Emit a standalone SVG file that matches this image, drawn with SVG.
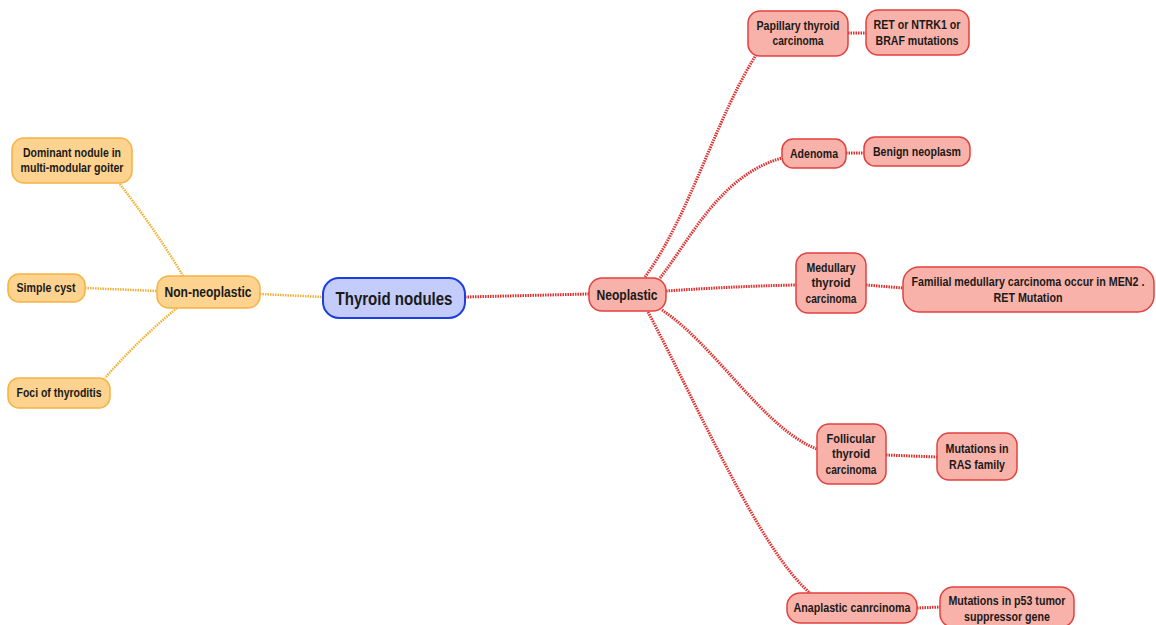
<svg xmlns="http://www.w3.org/2000/svg" width="1156" height="625" viewBox="0 0 1156 625">
<style>
.t{font-family:"Liberation Sans",Arial,sans-serif;font-weight:bold;fill:#1a1a1a;text-anchor:middle}
.o rect{fill:#fdd38f;stroke:#f5b342;stroke-width:1.5}
.r rect{fill:#f8b2a9;stroke:#e2413f;stroke-width:1.5}
.b rect{fill:#c3ccfa;stroke:#1d3fe0;stroke-width:2}
.co{fill:none;stroke:#f2b136;stroke-width:2.5;stroke-dasharray:1.5 1}
.cr{fill:none;stroke:#e0302e;stroke-width:3;stroke-dasharray:1.5 1}
</style>
<rect width="1156" height="625" fill="#ffffff"/>
<g id="connectors">
<path class="co" d="M260,294 L323,297"/>
<path class="co" d="M85,288 L157,291"/>
<path class="co" d="M183,276 C165,245 140,210 119,183"/>
<path class="co" d="M177,308 C150,330 125,355 105,378"/>
<path class="cr" d="M465,297 L589,294"/>
<path class="cr" d="M645,277 C690,215 715,120 756,55"/>
<path class="cr" d="M660,278 C690,240 720,175 782,158"/>
<path class="cr" d="M666,291 C710,288 750,286 796,285"/>
<path class="cr" d="M662,310 C715,345 765,430 817,449"/>
<path class="cr" d="M648,312 C700,410 760,550 810,593"/>
<path class="cr" d="M848,33 L866,33"/>
<path class="cr" d="M846,153 L864,153"/>
<path class="cr" d="M866,285 L903,288"/>
<path class="cr" d="M886,455 L937,457"/>
<path class="cr" d="M917,608 L940,607"/>
</g>
<g id="thyroid-nodules" class="b"><rect x="323" y="278" width="142" height="40" rx="16"/><text class="t" x="394" y="304.5" font-size="18" textLength="117" lengthAdjust="spacingAndGlyphs">Thyroid nodules</text></g>
<g id="non-neoplastic" class="o"><rect x="157" y="276" width="103" height="32" rx="12"/><text class="t" x="208" y="297" font-size="15" textLength="87" lengthAdjust="spacingAndGlyphs">Non-neoplastic</text></g>
<g id="dominant" class="o"><rect x="12" y="138" width="120" height="45" rx="12"/><text class="t" font-size="12.5"><tspan x="72" y="157" textLength="98" lengthAdjust="spacingAndGlyphs">Dominant nodule in</tspan><tspan x="72" y="172" textLength="103" lengthAdjust="spacingAndGlyphs">multi-modular goiter</tspan></text></g>
<g id="simple-cyst" class="o"><rect x="8" y="274" width="77" height="28" rx="11"/><text class="t" x="46" y="292" font-size="12.5" textLength="59" lengthAdjust="spacingAndGlyphs">Simple cyst</text></g>
<g id="foci" class="o"><rect x="8" y="378" width="102" height="30" rx="11"/><text class="t" x="59" y="397" font-size="12.5" textLength="85" lengthAdjust="spacingAndGlyphs">Foci of thyroditis</text></g>
<g id="neoplastic" class="r"><rect x="589" y="278" width="77" height="33" rx="13"/><text class="t" x="627" y="299.5" font-size="14.5" textLength="61" lengthAdjust="spacingAndGlyphs">Neoplastic</text></g>
<g id="papillary" class="r"><rect x="748" y="11" width="100" height="45" rx="12"/><text class="t" font-size="12.5"><tspan x="798" y="30" textLength="83" lengthAdjust="spacingAndGlyphs">Papillary thyroid</tspan><tspan x="798" y="45" textLength="51" lengthAdjust="spacingAndGlyphs">carcinoma</tspan></text></g>
<g id="ret" class="r"><rect x="866" y="10" width="103" height="45" rx="12"/><text class="t" font-size="12.5"><tspan x="917" y="29" textLength="87" lengthAdjust="spacingAndGlyphs">RET or NTRK1 or</tspan><tspan x="917" y="45" textLength="83" lengthAdjust="spacingAndGlyphs">BRAF mutations</tspan></text></g>
<g id="adenoma" class="r"><rect x="782" y="139" width="64" height="29" rx="11"/><text class="t" x="814" y="158" font-size="12.5" textLength="48" lengthAdjust="spacingAndGlyphs">Adenoma</text></g>
<g id="benign" class="r"><rect x="864" y="137" width="106" height="29" rx="11"/><text class="t" x="917" y="156" font-size="12.5" textLength="88" lengthAdjust="spacingAndGlyphs">Benign neoplasm</text></g>
<g id="medullary" class="r"><rect x="796" y="253" width="70" height="60" rx="12"/><text class="t" font-size="12.5"><tspan x="831" y="272" textLength="49" lengthAdjust="spacingAndGlyphs">Medullary</tspan><tspan x="831" y="287" textLength="39" lengthAdjust="spacingAndGlyphs">thyroid</tspan><tspan x="831" y="303" textLength="51" lengthAdjust="spacingAndGlyphs">carcinoma</tspan></text></g>
<g id="familial" class="r"><rect x="903" y="267" width="251" height="45" rx="16"/><text class="t" font-size="12.5" transform="translate(1028,0) scale(0.856,1)"><tspan x="0" y="286">Familial medullary carcinoma occur in MEN2 .</tspan><tspan x="0" y="302">RET Mutation</tspan></text></g>
<g id="follicular" class="r"><rect x="817" y="424" width="69" height="60" rx="12"/><text class="t" font-size="12.5"><tspan x="851" y="443" textLength="49" lengthAdjust="spacingAndGlyphs">Follicular</tspan><tspan x="851" y="458" textLength="38" lengthAdjust="spacingAndGlyphs">thyroid</tspan><tspan x="851" y="474" textLength="51" lengthAdjust="spacingAndGlyphs">carcinoma</tspan></text></g>
<g id="ras" class="r"><rect x="937" y="433" width="80" height="47" rx="12"/><text class="t" font-size="12.5"><tspan x="977" y="453" textLength="63" lengthAdjust="spacingAndGlyphs">Mutations in</tspan><tspan x="977" y="469" textLength="56" lengthAdjust="spacingAndGlyphs">RAS family</tspan></text></g>
<g id="anaplastic" class="r"><rect x="787" y="593" width="130" height="30" rx="13"/><text class="t" x="852" y="612" font-size="12.5" textLength="117" lengthAdjust="spacingAndGlyphs">Anaplastic canrcinoma</text></g>
<g id="p53" class="r"><rect x="940" y="587" width="134" height="40" rx="13"/><text class="t" font-size="12.5"><tspan x="1007" y="605" textLength="117" lengthAdjust="spacingAndGlyphs">Mutations in p53 tumor</tspan><tspan x="1007" y="621" textLength="86" lengthAdjust="spacingAndGlyphs">suppressor gene</tspan></text></g>
</svg>
